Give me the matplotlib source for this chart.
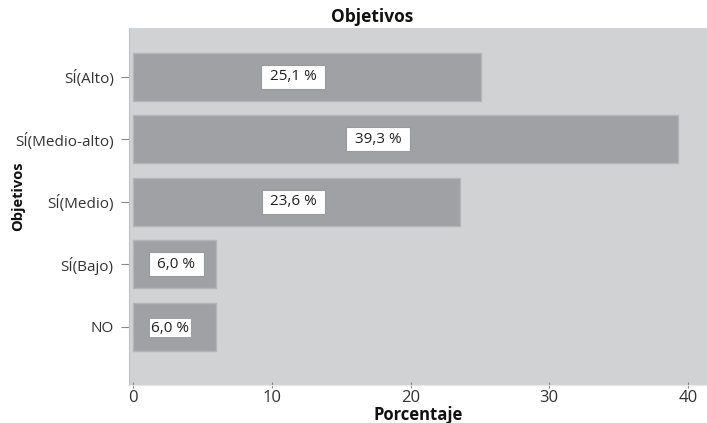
import matplotlib
matplotlib.use("Agg")
import matplotlib.pyplot as plt

plt.rcParams['font.family'] = ['Open Sans', 'DejaVu Sans']

categories = ["NO", "SÍ(Bajo)", "SÍ(Medio)", "SÍ(Medio-alto)", "SÍ(Alto)"]
values = [6.0, 6.0, 23.6, 39.3, 25.1]
value_labels = ["6,0 %", "6,0 %", "23,6 %", "39,3 %", "25,1 %"]
x_ticks = [0, 10, 20, 30, 40]

fig = plt.figure(figsize=(7.07, 4.23), dpi=100)
W, H = 707, 423
left, right, top, bottom = 129, 707, 28, 385
ax = fig.add_axes([left / W, 1 - bottom / H, (right - left) / W, (bottom - top) / H])

bg = "#d1d2d4"
bar_col = "#a0a1a5"
ax.set_facecolor(bg)

ypos = list(range(len(categories)))
ax.barh(ypos, values, height=0.77, color=bar_col, edgecolor="#b4b5b8", linewidth=1.0)

label_frac = [0.45, 0.52, 0.49, 0.45, 0.46]
for y, v, lab, f in zip(ypos, values, value_labels, label_frac):
    if y == 0:
        ax.text(v * f, y - 0.02, lab, ha="center", va="center", fontsize=11, color="#222222",
                bbox=dict(boxstyle="square,pad=0.08", facecolor="white", edgecolor="none"))
    else:
        ax.text(v * f, y, " " + lab + " ", ha="center", va="center", fontsize=11, color="#222222",
                bbox=dict(boxstyle="square,pad=0.3", facecolor="white", edgecolor="#9a9a9a", linewidth=0.8))

ax.set_xlim(-0.29, 41.37)
ax.set_ylim(-0.93, 4.78)
ax.set_yticks(ypos)
ax.set_yticklabels(categories, fontsize=11, color="#333333")
ax.set_xticks(x_ticks)
ax.set_xticklabels([str(t) for t in x_ticks], fontsize=12, color="#333333")
ax.tick_params(axis="y", length=6, width=0.8, color="#888888", pad=5)
ax.tick_params(axis="x", length=5, width=0.8, color="#888888", pad=1, direction="inout")

for s in ax.spines.values():
    s.set_visible(False)
ax.spines["left"].set_visible(True)
ax.spines["left"].set_color("#c0c0c2")
ax.spines["bottom"].set_visible(True)
ax.spines["bottom"].set_color("#e6e6e8")

ax.set_xlabel("Porcentaje", fontsize=12, fontweight="bold", color="#111111", labelpad=0)
ax.set_ylabel("Objetivos", fontsize=10.5, fontweight="bold", color="#111111")
ax.yaxis.set_label_coords(-0.180, 0.53)

fig.text(372 / W, 1 - 17 / H, "Objetivos", ha="center", va="center", fontsize=12.5,
         fontweight="bold", color="#111111")

fig.savefig("out.png", dpi=100, facecolor="white")
